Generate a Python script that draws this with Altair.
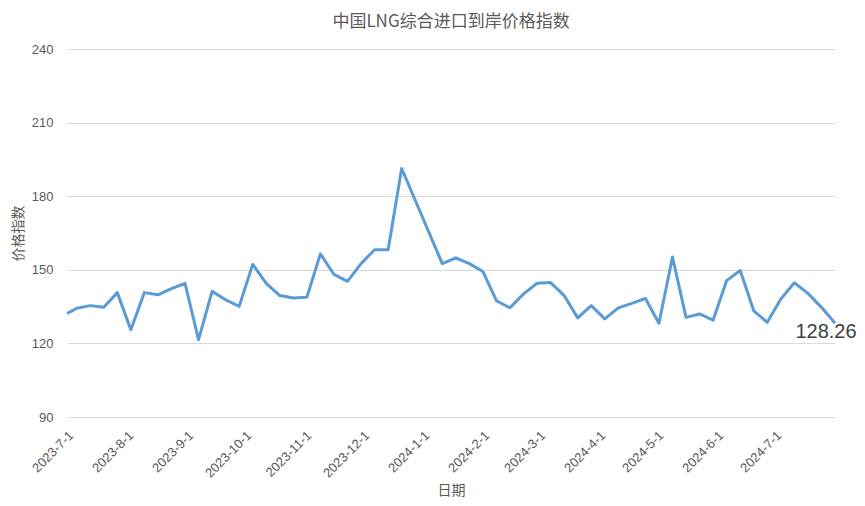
import altair as alt
import pandas as pd

# Dates of the index observations (weekly, two holiday weeks absent)
dates = [
    "2023/07/01", "2023/07/06", "2023/07/13", "2023/07/20", "2023/07/27",
    "2023/08/03", "2023/08/10", "2023/08/17", "2023/08/24", "2023/08/31",
    "2023/09/07", "2023/09/14", "2023/09/21", "2023/09/28", "2023/10/05",
    "2023/10/12", "2023/10/19", "2023/10/26", "2023/11/02", "2023/11/09",
    "2023/11/16", "2023/11/23", "2023/11/30", "2023/12/07", "2023/12/14",
    "2023/12/21", "2024/01/11", "2024/01/18", "2024/01/25", "2024/02/01",
    "2024/02/08", "2024/02/15", "2024/02/22", "2024/02/29", "2024/03/07",
    "2024/03/14", "2024/03/21", "2024/03/28", "2024/04/04", "2024/04/11",
    "2024/04/18", "2024/04/25", "2024/05/02", "2024/05/09", "2024/05/16",
    "2024/05/23", "2024/05/30", "2024/06/06", "2024/06/13", "2024/06/20",
    "2024/06/27", "2024/07/04", "2024/07/11", "2024/07/18", "2024/07/25",
    "2024/08/01",
]
values = [
    132.2, 134.3, 135.4, 134.7, 140.7, 125.6, 140.7, 139.8, 142.3, 144.5,
    121.5, 141.2, 137.8, 135.1, 152.2, 144.5, 139.5, 138.5, 138.8, 156.5,
    148.1, 145.3, 152.5, 158.2, 158.2, 191.3, 152.5, 154.9, 152.5, 149.3,
    137.4, 134.5, 140.2, 144.5, 144.8, 139.5, 130.4, 135.4, 130.0, 134.5,
    136.3, 138.3, 128.2, 155.2, 130.6, 132.0, 129.5, 145.6, 149.7, 133.3,
    128.6, 138.1, 144.7, 140.4, 134.7, 128.26,
]
tick_months = [(2023, m) for m in range(7, 13)] + [(2024, m) for m in range(1, 8)]
y_ticks = [90, 120, 150, 180, 210, 240]

df = pd.DataFrame({"date": dates, "value": values})
last = df.tail(1)

grey = "#595959"
x_enc = alt.X(
    "date:T",
    title="日期",
    scale=alt.Scale(domain=[alt.DateTime(year=2023, month=7, date=1),
                            alt.DateTime(year=2024, month=8, date=1)]),
    axis=alt.Axis(
        values=[alt.DateTime(year=y, month=m, date=1) for y, m in tick_months],
        format="%Y-%-m-%-d",
        labelAngle=-45,
        labelAlign="right",
        labelBaseline="middle",
        labelFontSize=13,
        labelColor=grey,
        labelFont="Liberation Sans",
        labelPadding=16,
        labelOffset=4,
        labelOverlap=False,
        labelFlush=False,
        ticks=False,
        domain=False,
        grid=False,
        titleFont="Noto Sans CJK SC",
        titleFontSize=14,
        titleFontWeight="normal",
        titleColor=grey,
        titlePadding=4,
    ),
)
y_enc = alt.Y(
    "value:Q",
    title="价格指数",
    scale=alt.Scale(domain=[90, 240], nice=False, zero=False),
    axis=alt.Axis(
        values=y_ticks,
        labelFontSize=13,
        labelColor=grey,
        labelFont="Liberation Sans",
        labelPadding=14,
        ticks=False,
        domain=False,
        grid=True,
        gridColor="#d9d9d9",
        gridWidth=1,
        titleFont="Noto Sans CJK SC",
        titleFontSize=14,
        titleFontWeight="normal",
        titleColor=grey,
        titlePadding=6,
    ),
)

line = alt.Chart(df).mark_line(
    color="#5B9BD5", strokeWidth=3, strokeJoin="round"
).encode(x=x_enc, y=y_enc)

label = alt.Chart(last).mark_text(
    fontSize=20, font="Liberation Sans", color="#404040",
    align="center", baseline="middle", dx=-9, dy=9,
).encode(x="date:T", y="value:Q", text=alt.Text("value:Q", format=".2f"))

chart = alt.layer(line, label).properties(
    width=768,
    height=368,
    title=alt.TitleParams(
        "中国LNG综合进口到岸价格指数",
        font="Noto Sans CJK SC",
        fontSize=17,
        fontWeight="normal",
        color=grey,
        anchor="middle",
        offset=12,
    ),
    autosize=alt.AutoSizeParams(type="none"),
    padding={"left": 59, "top": 41, "right": 22, "bottom": 81},
).configure_view(stroke=None)

chart.save("out.html", embed_options={"renderer": "svg", "actions": False})
